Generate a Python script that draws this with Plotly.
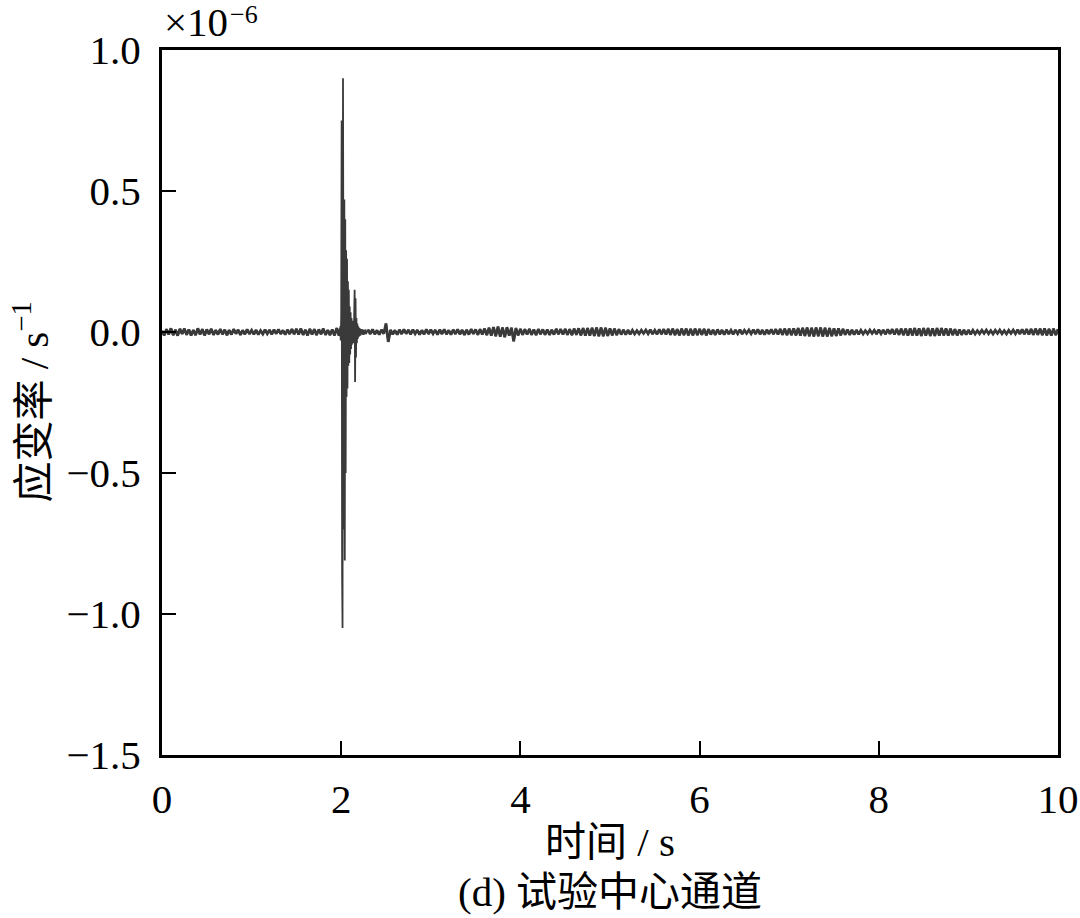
import numpy as np
import plotly.graph_objects as go

# Strain-rate signal, values in units of 1e-9 s^-1 (axis shows x1e-6)
# Segment A: t = 0.000 ... 1.975 s, step 0.025 s
seg_a_start, seg_a_step = 0.0, 0.025
seg_a_vals = [
    4, -12, 10, -9, 13, -11, 8, -13, 11, -7,
    12, -10, 9, -12, 7, -11, 13, -9, 10, -12,
    9, -8, 11, -10, 7, -9, 10, -8, 8, -11,
    7, -9, 10, -6, 8, -10, 6, -8, 9, -7,
    6, -8, 7, -9, 5, -7, 8, -6, 7, -8,
    8, -6, 9, -7, 6, -9, 8, -7, 10, -8,
    11, -9, 12, -10, 8, -12, 11, -9, 10, -11,
    9, -8, 12, -10, 7, -11, 9, -12, 14, -13,
]
# Segment B (impact): t = 1.980 ... 2.275 s, step 0.005 s
seg_b_start, seg_b_step = 1.98, 0.005
seg_b_vals = [
    12, -15, 20, -30, 60, 750, -860, -1050, 900, 420,
    -700, 470, -810, 400, -500, 290, -230, 260, -200, 180,
    -120, 150, -110, 90, -80, 70, -60, 50, -45, 40,
    -35, 30, -40, 60, 150, -177, 120, -90, 50, -40,
    30, -25, 20, -18, 15, -14, 12, -12, 10, -9,
    10, -8, 9, -10, 8, -9, 7, -8, 9, -7,
]
# Segment C: t = 2.300 ... 10.000 s, step 0.025 s
seg_c_start, seg_c_step = 2.3, 0.025
seg_c_vals = [
    8, -7, 9, -8, 6, -9, 8, -6, 30, -35,
    7, -8, 6, -9, 8, -7, 9, -6, 7, -8,
    8, -6, 7, -9, 6, -8, 9, -7, 8, -6,
    7, -9, 8, -7, 9, -8, 6, -9, 8, -7,
    9, -8, 7, -10, 8, -9, 10, -7, 9, -10,
    10, -9, 12, -11, 15, -13, 17, -15, 19, -17,
    16, -18, 17, -13, 15, -33, 14, -12, 11, -10,
    10, -9, 11, -10, 9, -11, 10, -8, 9, -10,
    9, -10, 8, -9, 11, -8, 10, -9, 11, -10,
    10, -11, 12, -10, 13, -12, 14, -13, 14, -13,
    15, -14, 16, -15, 16, -15, 15, -14, 13, -12,
    12, -11, 10, -9, 8, -9, 7, -8, 6, -7,
    5, -6, 6, -5, 7, -6, 8, -7, 6, -8,
    9, -8, 10, -9, 11, -10, 12, -11, 10, -12,
    12, -11, 12, -12, 11, -12, 12, -11, 11, -10,
    11, -12, 10, -9, 8, -10, 9, -8, 7, -9,
    8, -7, 6, -8, 7, -6, 8, -7, 6, -5,
    7, -6, 8, -7, 9, -8, 7, -9, 8, -7,
    9, -8, 10, -9, 11, -10, 12, -11, 12, -11,
    13, -12, 14, -13, 15, -14, 16, -15, 15, -16,
    16, -15, 16, -16, 15, -16, 14, -15, 13, -14,
    13, -12, 11, -10, 9, -10, 8, -9, 7, -8,
    6, -7, 5, -6, 7, -5, 6, -7, 8, -6,
    7, -8, 9, -7, 10, -9, 11, -10, 12, -11,
    12, -13, 13, -12, 14, -13, 13, -14, 14, -13,
    14, -14, 13, -14, 14, -13, 14, -12, 13, -13,
    12, -11, 10, -12, 9, -10, 8, -9, 7, -8,
    6, -7, 5, -6, 6, -5, 7, -6, 5, -7,
    6, -5, 7, -6, 5, -7, 6, -5, 7, -6,
    8, -7, 9, -8, 10, -9, 11, -10, 12, -10,
    12, -11, 13, -12, 11, -13, 12, -11, 10,
]

x_ticks = [0, 2, 4, 6, 8, 10]
y_ticks = [-1.5, -1.0, -0.5, 0.0, 0.5, 1.0]


def seg_time(start, step, vals):
    return start + step * np.arange(len(vals))


t_a = seg_time(seg_a_start, seg_a_step, seg_a_vals)
t_b = seg_time(seg_b_start, seg_b_step, seg_b_vals)
t_c = seg_time(seg_c_start, seg_c_step, seg_c_vals)
y_a = np.array(seg_a_vals) / 1000.0  # -> x1e-6
y_b = np.array(seg_b_vals) / 1000.0
y_c = np.array(seg_c_vals) / 1000.0

t = np.concatenate([t_a, t_b, t_c])
y = np.concatenate([y_a, y_b, y_c])

FONT = "Liberation Serif, Times New Roman, Noto Sans CJK SC, serif"
FS = 41
LINE = "#3a3a3a"

fig = go.Figure()
# thick trace for the fuzzy background-noise band
for tt, yy in ((t_a, y_a), (t_c, y_c)):
    fig.add_trace(go.Scatter(x=tt, y=yy, mode="lines",
                             line=dict(color=LINE, width=2.8),
                             hoverinfo="skip", showlegend=False))
# full record
fig.add_trace(go.Scatter(x=t, y=y, mode="lines",
                         line=dict(color=LINE, width=1.8),
                         hoverinfo="skip", showlegend=False))

fig.update_layout(
    width=1080, height=918,
    margin=dict(l=162, r=22, t=50, b=163, autoexpand=False),
    paper_bgcolor="white", plot_bgcolor="white",
    font=dict(family=FONT, size=FS, color="black"),
    showlegend=False,
)
fig.update_xaxes(
    range=[0, 10], tickvals=x_ticks, ticktext=[str(v) for v in x_ticks],
    ticks="inside", ticklen=14, tickwidth=2, tickcolor="black",
    showline=True, linewidth=3, linecolor="black", mirror=True,
    showgrid=False, zeroline=False, automargin=False,
    tickfont=dict(family=FONT, size=FS), ticklabelstandoff=6,
)
fig.update_yaxes(
    range=[-1.5, 1.0], tickvals=y_ticks, tickformat=".1f",
    ticks="inside", ticklen=14, tickwidth=2, tickcolor="black",
    showline=True, linewidth=3, linecolor="black", mirror=True,
    showgrid=False, zeroline=False, automargin=False,
    tickfont=dict(family=FONT, size=FS), ticklabelstandoff=10,
)

# exponent label "×10^-6" built from two pieces so it fits at the top edge
fig.add_annotation(text="×10", xref="paper", yref="paper",
                   x=0.0, y=1.0, xanchor="left", yanchor="bottom",
                   showarrow=False, font=dict(family=FONT, size=FS), yshift=3)
fig.add_annotation(text="−6", xref="paper", yref="paper",
                   x=0.0, y=1.0, xanchor="left", yanchor="bottom",
                   showarrow=False, font=dict(family=FONT, size=26),
                   xshift=66, yshift=19)
fig.add_annotation(text="时间 / s", xref="paper", yref="paper",
                   x=0.5, y=-0.1234, xanchor="center", yanchor="middle",
                   showarrow=False, font=dict(family=FONT, size=FS))
fig.add_annotation(text="(d) 试验中心通道", xref="paper", yref="paper",
                   x=0.5, y=-0.1943, xanchor="center", yanchor="middle",
                   showarrow=False, font=dict(family=FONT, size=FS))
fig.add_annotation(text="应变率 / s<sup>−1</sup>", xref="paper", yref="paper",
                   x=-0.1473, y=0.50, xanchor="center", yanchor="middle",
                   textangle=-90, showarrow=False,
                   font=dict(family=FONT, size=FS))

fig.write_html(
    "out.html",
    config={"displayModeBar": False},
    post_script="document.body.style.margin='0';"
                "document.body.style.overflow='hidden';",
)
